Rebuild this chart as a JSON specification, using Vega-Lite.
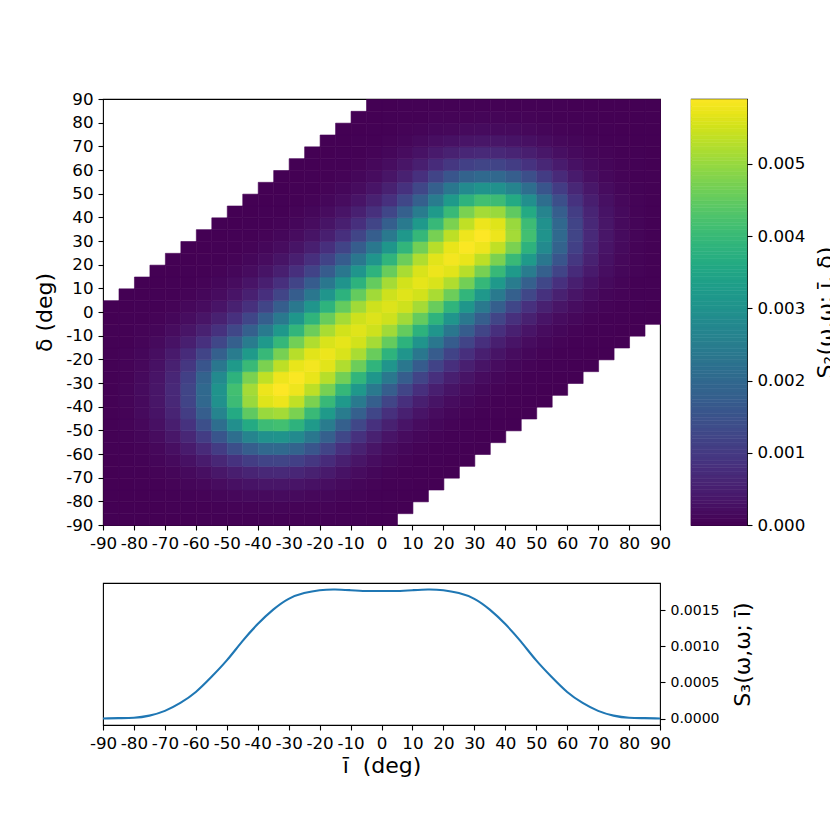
{
  "$schema": "https://vega.github.io/schema/vega-lite/v6.json",
  "background": "white",
  "padding": {"left": 33, "top": 90, "right": 0, "bottom": 0},
  "columns": 2,
  "spacing": {"row": 58, "column": 31},
  "bounds": "flush",
  "config": {
    "font": "DejaVu Sans",
    "view": {"stroke": "black", "strokeWidth": 1.1},
    "axis": {
      "grid": false, "domain": false, "tickColor": "black", "tickSize": 5, "tickWidth": 1.1,
      "labelColor": "black", "labelFont": "DejaVu Sans", "labelFontSize": 16.7, "labelPadding": 5,
      "labelFlush": false, "labelOverlap": false, "labelBound": false,
      "titleColor": "black", "titleFont": "DejaVu Sans", "titleFontSize": 22, "titleFontWeight": "normal"
    }
  },
  "concat": [
    {
      "width": 557,
      "height": 426,
      "data": {"values": [
{"x":-90,"y":-90,"v":0},{"x":-90,"y":-85,"v":0},{"x":-90,"y":-80,"v":0},{"x":-90,"y":-75,"v":0},{"x":-90,"y":-70,"v":0},{"x":-90,"y":-65,"v":0},{"x":-90,"y":-60,"v":0.00001},{"x":-90,"y":-55,"v":0.00001},{"x":-90,"y":-50,"v":0.00002},{"x":-90,"y":-45,"v":0.00002},{"x":-90,"y":-40,"v":0.00002},{"x":-90,"y":-35,"v":0.00002},{"x":-90,"y":-30,"v":0.00002},{"x":-90,"y":-25,"v":0.00002},{"x":-90,"y":-20,"v":0.00001},{"x":-90,"y":-15,"v":0.00001},{"x":-90,"y":-10,"v":0.00001},{"x":-90,"y":-5,"v":0},{"x":-90,"y":0,"v":0},
{"x":-85,"y":-90,"v":0},{"x":-85,"y":-85,"v":0},{"x":-85,"y":-80,"v":0},{"x":-85,"y":-75,"v":0},{"x":-85,"y":-70,"v":0.00001},{"x":-85,"y":-65,"v":0.00001},{"x":-85,"y":-60,"v":0.00002},{"x":-85,"y":-55,"v":0.00003},{"x":-85,"y":-50,"v":0.00004},{"x":-85,"y":-45,"v":0.00005},{"x":-85,"y":-40,"v":0.00006},{"x":-85,"y":-35,"v":0.00006},{"x":-85,"y":-30,"v":0.00005},{"x":-85,"y":-25,"v":0.00005},{"x":-85,"y":-20,"v":0.00004},{"x":-85,"y":-15,"v":0.00002},{"x":-85,"y":-10,"v":0.00002},{"x":-85,"y":-5,"v":0.00001},{"x":-85,"y":0,"v":0},{"x":-85,"y":5,"v":0},
{"x":-80,"y":-90,"v":0},{"x":-80,"y":-85,"v":0},{"x":-80,"y":-80,"v":0},{"x":-80,"y":-75,"v":0.00001},{"x":-80,"y":-70,"v":0.00002},{"x":-80,"y":-65,"v":0.00003},{"x":-80,"y":-60,"v":0.00005},{"x":-80,"y":-55,"v":0.00007},{"x":-80,"y":-50,"v":0.0001},{"x":-80,"y":-45,"v":0.00013},{"x":-80,"y":-40,"v":0.00014},{"x":-80,"y":-35,"v":0.00015},{"x":-80,"y":-30,"v":0.00013},{"x":-80,"y":-25,"v":0.00011},{"x":-80,"y":-20,"v":0.00009},{"x":-80,"y":-15,"v":0.00006},{"x":-80,"y":-10,"v":0.00004},{"x":-80,"y":-5,"v":0.00002},{"x":-80,"y":0,"v":0.00001},{"x":-80,"y":5,"v":0},{"x":-80,"y":10,"v":0},
{"x":-75,"y":-90,"v":0},{"x":-75,"y":-85,"v":0},{"x":-75,"y":-80,"v":0.00001},{"x":-75,"y":-75,"v":0.00002},{"x":-75,"y":-70,"v":0.00004},{"x":-75,"y":-65,"v":0.00007},{"x":-75,"y":-60,"v":0.00011},{"x":-75,"y":-55,"v":0.00017},{"x":-75,"y":-50,"v":0.00023},{"x":-75,"y":-45,"v":0.00028},{"x":-75,"y":-40,"v":0.00032},{"x":-75,"y":-35,"v":0.00032},{"x":-75,"y":-30,"v":0.0003},{"x":-75,"y":-25,"v":0.00025},{"x":-75,"y":-20,"v":0.00019},{"x":-75,"y":-15,"v":0.00013},{"x":-75,"y":-10,"v":0.00008},{"x":-75,"y":-5,"v":0.00005},{"x":-75,"y":0,"v":0.00002},{"x":-75,"y":5,"v":0.00001},{"x":-75,"y":10,"v":0},{"x":-75,"y":15,"v":0},
{"x":-70,"y":-90,"v":0},{"x":-70,"y":-85,"v":0.00001},{"x":-70,"y":-80,"v":0.00002},{"x":-70,"y":-75,"v":0.00004},{"x":-70,"y":-70,"v":0.00007},{"x":-70,"y":-65,"v":0.00013},{"x":-70,"y":-60,"v":0.00022},{"x":-70,"y":-55,"v":0.00034},{"x":-70,"y":-50,"v":0.00046},{"x":-70,"y":-45,"v":0.00057},{"x":-70,"y":-40,"v":0.00064},{"x":-70,"y":-35,"v":0.00066},{"x":-70,"y":-30,"v":0.00061},{"x":-70,"y":-25,"v":0.00051},{"x":-70,"y":-20,"v":0.00039},{"x":-70,"y":-15,"v":0.00027},{"x":-70,"y":-10,"v":0.00017},{"x":-70,"y":-5,"v":0.00009},{"x":-70,"y":0,"v":0.00005},{"x":-70,"y":5,"v":0.00002},{"x":-70,"y":10,"v":0.00001},{"x":-70,"y":15,"v":0},{"x":-70,"y":20,"v":0},
{"x":-65,"y":-90,"v":0},{"x":-65,"y":-85,"v":0.00001},{"x":-65,"y":-80,"v":0.00003},{"x":-65,"y":-75,"v":0.00007},{"x":-65,"y":-70,"v":0.00013},{"x":-65,"y":-65,"v":0.00025},{"x":-65,"y":-60,"v":0.00041},{"x":-65,"y":-55,"v":0.00062},{"x":-65,"y":-50,"v":0.00084},{"x":-65,"y":-45,"v":0.00105},{"x":-65,"y":-40,"v":0.00118},{"x":-65,"y":-35,"v":0.0012},{"x":-65,"y":-30,"v":0.00111},{"x":-65,"y":-25,"v":0.00093},{"x":-65,"y":-20,"v":0.00071},{"x":-65,"y":-15,"v":0.00049},{"x":-65,"y":-10,"v":0.00031},{"x":-65,"y":-5,"v":0.00018},{"x":-65,"y":0,"v":0.0001},{"x":-65,"y":5,"v":0.00005},{"x":-65,"y":10,"v":0.00002},{"x":-65,"y":15,"v":0.00001},{"x":-65,"y":20,"v":0},{"x":-65,"y":25,"v":0},
{"x":-60,"y":-90,"v":0.00001},{"x":-60,"y":-85,"v":0.00002},{"x":-60,"y":-80,"v":0.00005},{"x":-60,"y":-75,"v":0.00011},{"x":-60,"y":-70,"v":0.00022},{"x":-60,"y":-65,"v":0.00041},{"x":-60,"y":-60,"v":0.00068},{"x":-60,"y":-55,"v":0.00102},{"x":-60,"y":-50,"v":0.00141},{"x":-60,"y":-45,"v":0.00174},{"x":-60,"y":-40,"v":0.00196},{"x":-60,"y":-35,"v":0.002},{"x":-60,"y":-30,"v":0.00185},{"x":-60,"y":-25,"v":0.00155},{"x":-60,"y":-20,"v":0.00118},{"x":-60,"y":-15,"v":0.00081},{"x":-60,"y":-10,"v":0.00051},{"x":-60,"y":-5,"v":0.00031},{"x":-60,"y":0,"v":0.00017},{"x":-60,"y":5,"v":0.00009},{"x":-60,"y":10,"v":0.00005},{"x":-60,"y":15,"v":0.00002},{"x":-60,"y":20,"v":0.00001},{"x":-60,"y":25,"v":0},{"x":-60,"y":30,"v":0},
{"x":-55,"y":-90,"v":0.00001},{"x":-55,"y":-85,"v":0.00003},{"x":-55,"y":-80,"v":0.00007},{"x":-55,"y":-75,"v":0.00017},{"x":-55,"y":-70,"v":0.00034},{"x":-55,"y":-65,"v":0.00062},{"x":-55,"y":-60,"v":0.00102},{"x":-55,"y":-55,"v":0.00155},{"x":-55,"y":-50,"v":0.00212},{"x":-55,"y":-45,"v":0.00263},{"x":-55,"y":-40,"v":0.00295},{"x":-55,"y":-35,"v":0.00301},{"x":-55,"y":-30,"v":0.00279},{"x":-55,"y":-25,"v":0.00233},{"x":-55,"y":-20,"v":0.00178},{"x":-55,"y":-15,"v":0.00124},{"x":-55,"y":-10,"v":0.00082},{"x":-55,"y":-5,"v":0.00051},{"x":-55,"y":0,"v":0.0003},{"x":-55,"y":5,"v":0.00017},{"x":-55,"y":10,"v":0.00009},{"x":-55,"y":15,"v":0.00005},{"x":-55,"y":20,"v":0.00002},{"x":-55,"y":25,"v":0.00001},{"x":-55,"y":30,"v":0},{"x":-55,"y":35,"v":0},
{"x":-50,"y":-90,"v":0.00002},{"x":-50,"y":-85,"v":0.00004},{"x":-50,"y":-80,"v":0.0001},{"x":-50,"y":-75,"v":0.00023},{"x":-50,"y":-70,"v":0.00046},{"x":-50,"y":-65,"v":0.00084},{"x":-50,"y":-60,"v":0.00141},{"x":-50,"y":-55,"v":0.00212},{"x":-50,"y":-50,"v":0.0029},{"x":-50,"y":-45,"v":0.00359},{"x":-50,"y":-40,"v":0.00404},{"x":-50,"y":-35,"v":0.00412},{"x":-50,"y":-30,"v":0.0038},{"x":-50,"y":-25,"v":0.00319},{"x":-50,"y":-20,"v":0.00245},{"x":-50,"y":-15,"v":0.00178},{"x":-50,"y":-10,"v":0.00123},{"x":-50,"y":-5,"v":0.00081},{"x":-50,"y":0,"v":0.00051},{"x":-50,"y":5,"v":0.0003},{"x":-50,"y":10,"v":0.00017},{"x":-50,"y":15,"v":0.00009},{"x":-50,"y":20,"v":0.00005},{"x":-50,"y":25,"v":0.00002},{"x":-50,"y":30,"v":0.00001},{"x":-50,"y":35,"v":0},{"x":-50,"y":40,"v":0},
{"x":-45,"y":-90,"v":0.00002},{"x":-45,"y":-85,"v":0.00005},{"x":-45,"y":-80,"v":0.00013},{"x":-45,"y":-75,"v":0.00028},{"x":-45,"y":-70,"v":0.00057},{"x":-45,"y":-65,"v":0.00105},{"x":-45,"y":-60,"v":0.00174},{"x":-45,"y":-55,"v":0.00263},{"x":-45,"y":-50,"v":0.00359},{"x":-45,"y":-45,"v":0.00445},{"x":-45,"y":-40,"v":0.00501},{"x":-45,"y":-35,"v":0.0051},{"x":-45,"y":-30,"v":0.00472},{"x":-45,"y":-25,"v":0.00399},{"x":-45,"y":-20,"v":0.0032},{"x":-45,"y":-15,"v":0.00244},{"x":-45,"y":-10,"v":0.00177},{"x":-45,"y":-5,"v":0.00122},{"x":-45,"y":0,"v":0.0008},{"x":-45,"y":5,"v":0.0005},{"x":-45,"y":10,"v":0.0003},{"x":-45,"y":15,"v":0.00017},{"x":-45,"y":20,"v":0.00009},{"x":-45,"y":25,"v":0.00005},{"x":-45,"y":30,"v":0.00002},{"x":-45,"y":35,"v":0.00001},{"x":-45,"y":40,"v":0},{"x":-45,"y":45,"v":0},
{"x":-40,"y":-90,"v":0.00002},{"x":-40,"y":-85,"v":0.00006},{"x":-40,"y":-80,"v":0.00014},{"x":-40,"y":-75,"v":0.00032},{"x":-40,"y":-70,"v":0.00064},{"x":-40,"y":-65,"v":0.00118},{"x":-40,"y":-60,"v":0.00196},{"x":-40,"y":-55,"v":0.00295},{"x":-40,"y":-50,"v":0.00404},{"x":-40,"y":-45,"v":0.00501},{"x":-40,"y":-40,"v":0.00562},{"x":-40,"y":-35,"v":0.00574},{"x":-40,"y":-30,"v":0.00535},{"x":-40,"y":-25,"v":0.00473},{"x":-40,"y":-20,"v":0.00397},{"x":-40,"y":-15,"v":0.00317},{"x":-40,"y":-10,"v":0.00241},{"x":-40,"y":-5,"v":0.00175},{"x":-40,"y":0,"v":0.0012},{"x":-40,"y":5,"v":0.00079},{"x":-40,"y":10,"v":0.00049},{"x":-40,"y":15,"v":0.00029},{"x":-40,"y":20,"v":0.00017},{"x":-40,"y":25,"v":0.00009},{"x":-40,"y":30,"v":0.00005},{"x":-40,"y":35,"v":0.00002},{"x":-40,"y":40,"v":0.00001},{"x":-40,"y":45,"v":0},{"x":-40,"y":50,"v":0},
{"x":-35,"y":-90,"v":0.00002},{"x":-35,"y":-85,"v":0.00006},{"x":-35,"y":-80,"v":0.00015},{"x":-35,"y":-75,"v":0.00032},{"x":-35,"y":-70,"v":0.00066},{"x":-35,"y":-65,"v":0.0012},{"x":-35,"y":-60,"v":0.002},{"x":-35,"y":-55,"v":0.00301},{"x":-35,"y":-50,"v":0.00412},{"x":-35,"y":-45,"v":0.0051},{"x":-35,"y":-40,"v":0.00574},{"x":-35,"y":-35,"v":0.0059},{"x":-35,"y":-30,"v":0.00575},{"x":-35,"y":-25,"v":0.00532},{"x":-35,"y":-20,"v":0.00469},{"x":-35,"y":-15,"v":0.00393},{"x":-35,"y":-10,"v":0.00314},{"x":-35,"y":-5,"v":0.00238},{"x":-35,"y":0,"v":0.00173},{"x":-35,"y":5,"v":0.00119},{"x":-35,"y":10,"v":0.00078},{"x":-35,"y":15,"v":0.00049},{"x":-35,"y":20,"v":0.00029},{"x":-35,"y":25,"v":0.00017},{"x":-35,"y":30,"v":0.00009},{"x":-35,"y":35,"v":0.00005},{"x":-35,"y":40,"v":0.00002},{"x":-35,"y":45,"v":0.00001},{"x":-35,"y":50,"v":0},{"x":-35,"y":55,"v":0},
{"x":-30,"y":-90,"v":0.00002},{"x":-30,"y":-85,"v":0.00005},{"x":-30,"y":-80,"v":0.00013},{"x":-30,"y":-75,"v":0.0003},{"x":-30,"y":-70,"v":0.00061},{"x":-30,"y":-65,"v":0.00111},{"x":-30,"y":-60,"v":0.00185},{"x":-30,"y":-55,"v":0.00279},{"x":-30,"y":-50,"v":0.0038},{"x":-30,"y":-45,"v":0.00472},{"x":-30,"y":-40,"v":0.00535},{"x":-30,"y":-35,"v":0.00575},{"x":-30,"y":-30,"v":0.00587},{"x":-30,"y":-25,"v":0.0057},{"x":-30,"y":-20,"v":0.00527},{"x":-30,"y":-15,"v":0.00464},{"x":-30,"y":-10,"v":0.00388},{"x":-30,"y":-5,"v":0.0031},{"x":-30,"y":0,"v":0.00236},{"x":-30,"y":5,"v":0.00171},{"x":-30,"y":10,"v":0.00118},{"x":-30,"y":15,"v":0.00078},{"x":-30,"y":20,"v":0.00049},{"x":-30,"y":25,"v":0.00029},{"x":-30,"y":30,"v":0.00017},{"x":-30,"y":35,"v":0.00009},{"x":-30,"y":40,"v":0.00005},{"x":-30,"y":45,"v":0.00002},{"x":-30,"y":50,"v":0.00001},{"x":-30,"y":55,"v":0},{"x":-30,"y":60,"v":0},
{"x":-25,"y":-90,"v":0.00002},{"x":-25,"y":-85,"v":0.00005},{"x":-25,"y":-80,"v":0.00011},{"x":-25,"y":-75,"v":0.00025},{"x":-25,"y":-70,"v":0.00051},{"x":-25,"y":-65,"v":0.00093},{"x":-25,"y":-60,"v":0.00155},{"x":-25,"y":-55,"v":0.00233},{"x":-25,"y":-50,"v":0.00319},{"x":-25,"y":-45,"v":0.00399},{"x":-25,"y":-40,"v":0.00473},{"x":-25,"y":-35,"v":0.00532},{"x":-25,"y":-30,"v":0.0057},{"x":-25,"y":-25,"v":0.00581},{"x":-25,"y":-20,"v":0.00564},{"x":-25,"y":-15,"v":0.00521},{"x":-25,"y":-10,"v":0.00458},{"x":-25,"y":-5,"v":0.00384},{"x":-25,"y":0,"v":0.00307},{"x":-25,"y":5,"v":0.00234},{"x":-25,"y":10,"v":0.0017},{"x":-25,"y":15,"v":0.00117},{"x":-25,"y":20,"v":0.00078},{"x":-25,"y":25,"v":0.00049},{"x":-25,"y":30,"v":0.00029},{"x":-25,"y":35,"v":0.00017},{"x":-25,"y":40,"v":0.00009},{"x":-25,"y":45,"v":0.00005},{"x":-25,"y":50,"v":0.00002},{"x":-25,"y":55,"v":0.00001},{"x":-25,"y":60,"v":0},{"x":-25,"y":65,"v":0},
{"x":-20,"y":-90,"v":0.00001},{"x":-20,"y":-85,"v":0.00004},{"x":-20,"y":-80,"v":0.00009},{"x":-20,"y":-75,"v":0.00019},{"x":-20,"y":-70,"v":0.00039},{"x":-20,"y":-65,"v":0.00071},{"x":-20,"y":-60,"v":0.00118},{"x":-20,"y":-55,"v":0.00178},{"x":-20,"y":-50,"v":0.00245},{"x":-20,"y":-45,"v":0.0032},{"x":-20,"y":-40,"v":0.00397},{"x":-20,"y":-35,"v":0.00469},{"x":-20,"y":-30,"v":0.00527},{"x":-20,"y":-25,"v":0.00564},{"x":-20,"y":-20,"v":0.00574},{"x":-20,"y":-15,"v":0.00557},{"x":-20,"y":-10,"v":0.00515},{"x":-20,"y":-5,"v":0.00454},{"x":-20,"y":0,"v":0.00381},{"x":-20,"y":5,"v":0.00305},{"x":-20,"y":10,"v":0.00233},{"x":-20,"y":15,"v":0.00169},{"x":-20,"y":20,"v":0.00117},{"x":-20,"y":25,"v":0.00078},{"x":-20,"y":30,"v":0.00049},{"x":-20,"y":35,"v":0.00029},{"x":-20,"y":40,"v":0.00017},{"x":-20,"y":45,"v":0.00009},{"x":-20,"y":50,"v":0.00005},{"x":-20,"y":55,"v":0.00002},{"x":-20,"y":60,"v":0.00001},{"x":-20,"y":65,"v":0},{"x":-20,"y":70,"v":0},
{"x":-15,"y":-90,"v":0.00001},{"x":-15,"y":-85,"v":0.00002},{"x":-15,"y":-80,"v":0.00006},{"x":-15,"y":-75,"v":0.00013},{"x":-15,"y":-70,"v":0.00027},{"x":-15,"y":-65,"v":0.00049},{"x":-15,"y":-60,"v":0.00081},{"x":-15,"y":-55,"v":0.00124},{"x":-15,"y":-50,"v":0.00178},{"x":-15,"y":-45,"v":0.00244},{"x":-15,"y":-40,"v":0.00317},{"x":-15,"y":-35,"v":0.00393},{"x":-15,"y":-30,"v":0.00464},{"x":-15,"y":-25,"v":0.00521},{"x":-15,"y":-20,"v":0.00557},{"x":-15,"y":-15,"v":0.00568},{"x":-15,"y":-10,"v":0.00551},{"x":-15,"y":-5,"v":0.00511},{"x":-15,"y":0,"v":0.0045},{"x":-15,"y":5,"v":0.00379},{"x":-15,"y":10,"v":0.00304},{"x":-15,"y":15,"v":0.00233},{"x":-15,"y":20,"v":0.0017},{"x":-15,"y":25,"v":0.00118},{"x":-15,"y":30,"v":0.00078},{"x":-15,"y":35,"v":0.00049},{"x":-15,"y":40,"v":0.0003},{"x":-15,"y":45,"v":0.00017},{"x":-15,"y":50,"v":0.00009},{"x":-15,"y":55,"v":0.00005},{"x":-15,"y":60,"v":0.00002},{"x":-15,"y":65,"v":0.00001},{"x":-15,"y":70,"v":0},{"x":-15,"y":75,"v":0},
{"x":-10,"y":-90,"v":0.00001},{"x":-10,"y":-85,"v":0.00002},{"x":-10,"y":-80,"v":0.00004},{"x":-10,"y":-75,"v":0.00008},{"x":-10,"y":-70,"v":0.00017},{"x":-10,"y":-65,"v":0.00031},{"x":-10,"y":-60,"v":0.00051},{"x":-10,"y":-55,"v":0.00082},{"x":-10,"y":-50,"v":0.00123},{"x":-10,"y":-45,"v":0.00177},{"x":-10,"y":-40,"v":0.00241},{"x":-10,"y":-35,"v":0.00314},{"x":-10,"y":-30,"v":0.00388},{"x":-10,"y":-25,"v":0.00458},{"x":-10,"y":-20,"v":0.00515},{"x":-10,"y":-15,"v":0.00551},{"x":-10,"y":-10,"v":0.00563},{"x":-10,"y":-5,"v":0.00547},{"x":-10,"y":0,"v":0.00508},{"x":-10,"y":5,"v":0.0045},{"x":-10,"y":10,"v":0.00379},{"x":-10,"y":15,"v":0.00305},{"x":-10,"y":20,"v":0.00234},{"x":-10,"y":25,"v":0.00171},{"x":-10,"y":30,"v":0.00119},{"x":-10,"y":35,"v":0.00079},{"x":-10,"y":40,"v":0.0005},{"x":-10,"y":45,"v":0.0003},{"x":-10,"y":50,"v":0.00017},{"x":-10,"y":55,"v":0.00009},{"x":-10,"y":60,"v":0.00005},{"x":-10,"y":65,"v":0.00002},{"x":-10,"y":70,"v":0.00001},{"x":-10,"y":75,"v":0},{"x":-10,"y":80,"v":0},
{"x":-5,"y":-90,"v":0},{"x":-5,"y":-85,"v":0.00001},{"x":-5,"y":-80,"v":0.00002},{"x":-5,"y":-75,"v":0.00005},{"x":-5,"y":-70,"v":0.00009},{"x":-5,"y":-65,"v":0.00018},{"x":-5,"y":-60,"v":0.00031},{"x":-5,"y":-55,"v":0.00051},{"x":-5,"y":-50,"v":0.00081},{"x":-5,"y":-45,"v":0.00122},{"x":-5,"y":-40,"v":0.00175},{"x":-5,"y":-35,"v":0.00238},{"x":-5,"y":-30,"v":0.0031},{"x":-5,"y":-25,"v":0.00384},{"x":-5,"y":-20,"v":0.00454},{"x":-5,"y":-15,"v":0.00511},{"x":-5,"y":-10,"v":0.00547},{"x":-5,"y":-5,"v":0.0056},{"x":-5,"y":0,"v":0.00547},{"x":-5,"y":5,"v":0.00508},{"x":-5,"y":10,"v":0.0045},{"x":-5,"y":15,"v":0.00381},{"x":-5,"y":20,"v":0.00307},{"x":-5,"y":25,"v":0.00236},{"x":-5,"y":30,"v":0.00173},{"x":-5,"y":35,"v":0.0012},{"x":-5,"y":40,"v":0.0008},{"x":-5,"y":45,"v":0.00051},{"x":-5,"y":50,"v":0.0003},{"x":-5,"y":55,"v":0.00017},{"x":-5,"y":60,"v":0.0001},{"x":-5,"y":65,"v":0.00005},{"x":-5,"y":70,"v":0.00002},{"x":-5,"y":75,"v":0.00001},{"x":-5,"y":80,"v":0},{"x":-5,"y":85,"v":0},
{"x":0,"y":-90,"v":0},{"x":0,"y":-85,"v":0},{"x":0,"y":-80,"v":0.00001},{"x":0,"y":-75,"v":0.00002},{"x":0,"y":-70,"v":0.00005},{"x":0,"y":-65,"v":0.0001},{"x":0,"y":-60,"v":0.00017},{"x":0,"y":-55,"v":0.0003},{"x":0,"y":-50,"v":0.00051},{"x":0,"y":-45,"v":0.0008},{"x":0,"y":-40,"v":0.0012},{"x":0,"y":-35,"v":0.00173},{"x":0,"y":-30,"v":0.00236},{"x":0,"y":-25,"v":0.00307},{"x":0,"y":-20,"v":0.00381},{"x":0,"y":-15,"v":0.0045},{"x":0,"y":-10,"v":0.00508},{"x":0,"y":-5,"v":0.00547},{"x":0,"y":0,"v":0.0056},{"x":0,"y":5,"v":0.00547},{"x":0,"y":10,"v":0.00511},{"x":0,"y":15,"v":0.00454},{"x":0,"y":20,"v":0.00384},{"x":0,"y":25,"v":0.0031},{"x":0,"y":30,"v":0.00238},{"x":0,"y":35,"v":0.00175},{"x":0,"y":40,"v":0.00122},{"x":0,"y":45,"v":0.00081},{"x":0,"y":50,"v":0.00051},{"x":0,"y":55,"v":0.00031},{"x":0,"y":60,"v":0.00018},{"x":0,"y":65,"v":0.00009},{"x":0,"y":70,"v":0.00005},{"x":0,"y":75,"v":0.00002},{"x":0,"y":80,"v":0.00001},{"x":0,"y":85,"v":0},
{"x":5,"y":-85,"v":0},{"x":5,"y":-80,"v":0},{"x":5,"y":-75,"v":0.00001},{"x":5,"y":-70,"v":0.00002},{"x":5,"y":-65,"v":0.00005},{"x":5,"y":-60,"v":0.00009},{"x":5,"y":-55,"v":0.00017},{"x":5,"y":-50,"v":0.0003},{"x":5,"y":-45,"v":0.0005},{"x":5,"y":-40,"v":0.00079},{"x":5,"y":-35,"v":0.00119},{"x":5,"y":-30,"v":0.00171},{"x":5,"y":-25,"v":0.00234},{"x":5,"y":-20,"v":0.00305},{"x":5,"y":-15,"v":0.00379},{"x":5,"y":-10,"v":0.0045},{"x":5,"y":-5,"v":0.00508},{"x":5,"y":0,"v":0.00547},{"x":5,"y":5,"v":0.00563},{"x":5,"y":10,"v":0.00551},{"x":5,"y":15,"v":0.00515},{"x":5,"y":20,"v":0.00458},{"x":5,"y":25,"v":0.00388},{"x":5,"y":30,"v":0.00314},{"x":5,"y":35,"v":0.00241},{"x":5,"y":40,"v":0.00177},{"x":5,"y":45,"v":0.00123},{"x":5,"y":50,"v":0.00082},{"x":5,"y":55,"v":0.00051},{"x":5,"y":60,"v":0.00031},{"x":5,"y":65,"v":0.00017},{"x":5,"y":70,"v":0.00008},{"x":5,"y":75,"v":0.00004},{"x":5,"y":80,"v":0.00002},{"x":5,"y":85,"v":0.00001},
{"x":10,"y":-80,"v":0},{"x":10,"y":-75,"v":0},{"x":10,"y":-70,"v":0.00001},{"x":10,"y":-65,"v":0.00002},{"x":10,"y":-60,"v":0.00005},{"x":10,"y":-55,"v":0.00009},{"x":10,"y":-50,"v":0.00017},{"x":10,"y":-45,"v":0.0003},{"x":10,"y":-40,"v":0.00049},{"x":10,"y":-35,"v":0.00078},{"x":10,"y":-30,"v":0.00118},{"x":10,"y":-25,"v":0.0017},{"x":10,"y":-20,"v":0.00233},{"x":10,"y":-15,"v":0.00304},{"x":10,"y":-10,"v":0.00379},{"x":10,"y":-5,"v":0.0045},{"x":10,"y":0,"v":0.00511},{"x":10,"y":5,"v":0.00551},{"x":10,"y":10,"v":0.00568},{"x":10,"y":15,"v":0.00557},{"x":10,"y":20,"v":0.00521},{"x":10,"y":25,"v":0.00464},{"x":10,"y":30,"v":0.00393},{"x":10,"y":35,"v":0.00317},{"x":10,"y":40,"v":0.00244},{"x":10,"y":45,"v":0.00178},{"x":10,"y":50,"v":0.00124},{"x":10,"y":55,"v":0.00081},{"x":10,"y":60,"v":0.00049},{"x":10,"y":65,"v":0.00027},{"x":10,"y":70,"v":0.00013},{"x":10,"y":75,"v":0.00006},{"x":10,"y":80,"v":0.00002},{"x":10,"y":85,"v":0.00001},
{"x":15,"y":-75,"v":0},{"x":15,"y":-70,"v":0},{"x":15,"y":-65,"v":0.00001},{"x":15,"y":-60,"v":0.00002},{"x":15,"y":-55,"v":0.00005},{"x":15,"y":-50,"v":0.00009},{"x":15,"y":-45,"v":0.00017},{"x":15,"y":-40,"v":0.00029},{"x":15,"y":-35,"v":0.00049},{"x":15,"y":-30,"v":0.00078},{"x":15,"y":-25,"v":0.00117},{"x":15,"y":-20,"v":0.00169},{"x":15,"y":-15,"v":0.00233},{"x":15,"y":-10,"v":0.00305},{"x":15,"y":-5,"v":0.00381},{"x":15,"y":0,"v":0.00454},{"x":15,"y":5,"v":0.00515},{"x":15,"y":10,"v":0.00557},{"x":15,"y":15,"v":0.00574},{"x":15,"y":20,"v":0.00564},{"x":15,"y":25,"v":0.00527},{"x":15,"y":30,"v":0.00469},{"x":15,"y":35,"v":0.00397},{"x":15,"y":40,"v":0.0032},{"x":15,"y":45,"v":0.00245},{"x":15,"y":50,"v":0.00178},{"x":15,"y":55,"v":0.00118},{"x":15,"y":60,"v":0.00071},{"x":15,"y":65,"v":0.00039},{"x":15,"y":70,"v":0.00019},{"x":15,"y":75,"v":0.00009},{"x":15,"y":80,"v":0.00004},{"x":15,"y":85,"v":0.00001},
{"x":20,"y":-70,"v":0},{"x":20,"y":-65,"v":0},{"x":20,"y":-60,"v":0.00001},{"x":20,"y":-55,"v":0.00002},{"x":20,"y":-50,"v":0.00005},{"x":20,"y":-45,"v":0.00009},{"x":20,"y":-40,"v":0.00017},{"x":20,"y":-35,"v":0.00029},{"x":20,"y":-30,"v":0.00049},{"x":20,"y":-25,"v":0.00078},{"x":20,"y":-20,"v":0.00117},{"x":20,"y":-15,"v":0.0017},{"x":20,"y":-10,"v":0.00234},{"x":20,"y":-5,"v":0.00307},{"x":20,"y":0,"v":0.00384},{"x":20,"y":5,"v":0.00458},{"x":20,"y":10,"v":0.00521},{"x":20,"y":15,"v":0.00564},{"x":20,"y":20,"v":0.00581},{"x":20,"y":25,"v":0.0057},{"x":20,"y":30,"v":0.00532},{"x":20,"y":35,"v":0.00473},{"x":20,"y":40,"v":0.00399},{"x":20,"y":45,"v":0.00319},{"x":20,"y":50,"v":0.00233},{"x":20,"y":55,"v":0.00155},{"x":20,"y":60,"v":0.00093},{"x":20,"y":65,"v":0.00051},{"x":20,"y":70,"v":0.00025},{"x":20,"y":75,"v":0.00011},{"x":20,"y":80,"v":0.00005},{"x":20,"y":85,"v":0.00002},
{"x":25,"y":-65,"v":0},{"x":25,"y":-60,"v":0},{"x":25,"y":-55,"v":0.00001},{"x":25,"y":-50,"v":0.00002},{"x":25,"y":-45,"v":0.00005},{"x":25,"y":-40,"v":0.00009},{"x":25,"y":-35,"v":0.00017},{"x":25,"y":-30,"v":0.00029},{"x":25,"y":-25,"v":0.00049},{"x":25,"y":-20,"v":0.00078},{"x":25,"y":-15,"v":0.00118},{"x":25,"y":-10,"v":0.00171},{"x":25,"y":-5,"v":0.00236},{"x":25,"y":0,"v":0.0031},{"x":25,"y":5,"v":0.00388},{"x":25,"y":10,"v":0.00464},{"x":25,"y":15,"v":0.00527},{"x":25,"y":20,"v":0.0057},{"x":25,"y":25,"v":0.00587},{"x":25,"y":30,"v":0.00575},{"x":25,"y":35,"v":0.00535},{"x":25,"y":40,"v":0.00472},{"x":25,"y":45,"v":0.0038},{"x":25,"y":50,"v":0.00279},{"x":25,"y":55,"v":0.00185},{"x":25,"y":60,"v":0.00111},{"x":25,"y":65,"v":0.00061},{"x":25,"y":70,"v":0.0003},{"x":25,"y":75,"v":0.00013},{"x":25,"y":80,"v":0.00005},{"x":25,"y":85,"v":0.00002},
{"x":30,"y":-60,"v":0},{"x":30,"y":-55,"v":0},{"x":30,"y":-50,"v":0.00001},{"x":30,"y":-45,"v":0.00002},{"x":30,"y":-40,"v":0.00005},{"x":30,"y":-35,"v":0.00009},{"x":30,"y":-30,"v":0.00017},{"x":30,"y":-25,"v":0.00029},{"x":30,"y":-20,"v":0.00049},{"x":30,"y":-15,"v":0.00078},{"x":30,"y":-10,"v":0.00119},{"x":30,"y":-5,"v":0.00173},{"x":30,"y":0,"v":0.00238},{"x":30,"y":5,"v":0.00314},{"x":30,"y":10,"v":0.00393},{"x":30,"y":15,"v":0.00469},{"x":30,"y":20,"v":0.00532},{"x":30,"y":25,"v":0.00575},{"x":30,"y":30,"v":0.0059},{"x":30,"y":35,"v":0.00574},{"x":30,"y":40,"v":0.0051},{"x":30,"y":45,"v":0.00412},{"x":30,"y":50,"v":0.00301},{"x":30,"y":55,"v":0.002},{"x":30,"y":60,"v":0.0012},{"x":30,"y":65,"v":0.00066},{"x":30,"y":70,"v":0.00032},{"x":30,"y":75,"v":0.00015},{"x":30,"y":80,"v":0.00006},{"x":30,"y":85,"v":0.00002},
{"x":35,"y":-55,"v":0},{"x":35,"y":-50,"v":0},{"x":35,"y":-45,"v":0.00001},{"x":35,"y":-40,"v":0.00002},{"x":35,"y":-35,"v":0.00005},{"x":35,"y":-30,"v":0.00009},{"x":35,"y":-25,"v":0.00017},{"x":35,"y":-20,"v":0.00029},{"x":35,"y":-15,"v":0.00049},{"x":35,"y":-10,"v":0.00079},{"x":35,"y":-5,"v":0.0012},{"x":35,"y":0,"v":0.00175},{"x":35,"y":5,"v":0.00241},{"x":35,"y":10,"v":0.00317},{"x":35,"y":15,"v":0.00397},{"x":35,"y":20,"v":0.00473},{"x":35,"y":25,"v":0.00535},{"x":35,"y":30,"v":0.00574},{"x":35,"y":35,"v":0.00562},{"x":35,"y":40,"v":0.00501},{"x":35,"y":45,"v":0.00404},{"x":35,"y":50,"v":0.00295},{"x":35,"y":55,"v":0.00196},{"x":35,"y":60,"v":0.00118},{"x":35,"y":65,"v":0.00064},{"x":35,"y":70,"v":0.00032},{"x":35,"y":75,"v":0.00014},{"x":35,"y":80,"v":0.00006},{"x":35,"y":85,"v":0.00002},
{"x":40,"y":-50,"v":0},{"x":40,"y":-45,"v":0},{"x":40,"y":-40,"v":0.00001},{"x":40,"y":-35,"v":0.00002},{"x":40,"y":-30,"v":0.00005},{"x":40,"y":-25,"v":0.00009},{"x":40,"y":-20,"v":0.00017},{"x":40,"y":-15,"v":0.0003},{"x":40,"y":-10,"v":0.0005},{"x":40,"y":-5,"v":0.0008},{"x":40,"y":0,"v":0.00122},{"x":40,"y":5,"v":0.00177},{"x":40,"y":10,"v":0.00244},{"x":40,"y":15,"v":0.0032},{"x":40,"y":20,"v":0.00399},{"x":40,"y":25,"v":0.00472},{"x":40,"y":30,"v":0.0051},{"x":40,"y":35,"v":0.00501},{"x":40,"y":40,"v":0.00445},{"x":40,"y":45,"v":0.00359},{"x":40,"y":50,"v":0.00263},{"x":40,"y":55,"v":0.00174},{"x":40,"y":60,"v":0.00105},{"x":40,"y":65,"v":0.00057},{"x":40,"y":70,"v":0.00028},{"x":40,"y":75,"v":0.00013},{"x":40,"y":80,"v":0.00005},{"x":40,"y":85,"v":0.00002},
{"x":45,"y":-45,"v":0},{"x":45,"y":-40,"v":0},{"x":45,"y":-35,"v":0.00001},{"x":45,"y":-30,"v":0.00002},{"x":45,"y":-25,"v":0.00005},{"x":45,"y":-20,"v":0.00009},{"x":45,"y":-15,"v":0.00017},{"x":45,"y":-10,"v":0.0003},{"x":45,"y":-5,"v":0.00051},{"x":45,"y":0,"v":0.00081},{"x":45,"y":5,"v":0.00123},{"x":45,"y":10,"v":0.00178},{"x":45,"y":15,"v":0.00245},{"x":45,"y":20,"v":0.00319},{"x":45,"y":25,"v":0.0038},{"x":45,"y":30,"v":0.00412},{"x":45,"y":35,"v":0.00404},{"x":45,"y":40,"v":0.00359},{"x":45,"y":45,"v":0.0029},{"x":45,"y":50,"v":0.00212},{"x":45,"y":55,"v":0.00141},{"x":45,"y":60,"v":0.00084},{"x":45,"y":65,"v":0.00046},{"x":45,"y":70,"v":0.00023},{"x":45,"y":75,"v":0.0001},{"x":45,"y":80,"v":0.00004},{"x":45,"y":85,"v":0.00002},
{"x":50,"y":-40,"v":0},{"x":50,"y":-35,"v":0},{"x":50,"y":-30,"v":0.00001},{"x":50,"y":-25,"v":0.00002},{"x":50,"y":-20,"v":0.00005},{"x":50,"y":-15,"v":0.00009},{"x":50,"y":-10,"v":0.00017},{"x":50,"y":-5,"v":0.0003},{"x":50,"y":0,"v":0.00051},{"x":50,"y":5,"v":0.00082},{"x":50,"y":10,"v":0.00124},{"x":50,"y":15,"v":0.00178},{"x":50,"y":20,"v":0.00233},{"x":50,"y":25,"v":0.00279},{"x":50,"y":30,"v":0.00301},{"x":50,"y":35,"v":0.00295},{"x":50,"y":40,"v":0.00263},{"x":50,"y":45,"v":0.00212},{"x":50,"y":50,"v":0.00155},{"x":50,"y":55,"v":0.00102},{"x":50,"y":60,"v":0.00062},{"x":50,"y":65,"v":0.00034},{"x":50,"y":70,"v":0.00017},{"x":50,"y":75,"v":0.00007},{"x":50,"y":80,"v":0.00003},{"x":50,"y":85,"v":0.00001},
{"x":55,"y":-35,"v":0},{"x":55,"y":-30,"v":0},{"x":55,"y":-25,"v":0.00001},{"x":55,"y":-20,"v":0.00002},{"x":55,"y":-15,"v":0.00005},{"x":55,"y":-10,"v":0.00009},{"x":55,"y":-5,"v":0.00017},{"x":55,"y":0,"v":0.00031},{"x":55,"y":5,"v":0.00051},{"x":55,"y":10,"v":0.00081},{"x":55,"y":15,"v":0.00118},{"x":55,"y":20,"v":0.00155},{"x":55,"y":25,"v":0.00185},{"x":55,"y":30,"v":0.002},{"x":55,"y":35,"v":0.00196},{"x":55,"y":40,"v":0.00174},{"x":55,"y":45,"v":0.00141},{"x":55,"y":50,"v":0.00102},{"x":55,"y":55,"v":0.00068},{"x":55,"y":60,"v":0.00041},{"x":55,"y":65,"v":0.00022},{"x":55,"y":70,"v":0.00011},{"x":55,"y":75,"v":0.00005},{"x":55,"y":80,"v":0.00002},{"x":55,"y":85,"v":0.00001},
{"x":60,"y":-30,"v":0},{"x":60,"y":-25,"v":0},{"x":60,"y":-20,"v":0.00001},{"x":60,"y":-15,"v":0.00002},{"x":60,"y":-10,"v":0.00005},{"x":60,"y":-5,"v":0.0001},{"x":60,"y":0,"v":0.00018},{"x":60,"y":5,"v":0.00031},{"x":60,"y":10,"v":0.00049},{"x":60,"y":15,"v":0.00071},{"x":60,"y":20,"v":0.00093},{"x":60,"y":25,"v":0.00111},{"x":60,"y":30,"v":0.0012},{"x":60,"y":35,"v":0.00118},{"x":60,"y":40,"v":0.00105},{"x":60,"y":45,"v":0.00084},{"x":60,"y":50,"v":0.00062},{"x":60,"y":55,"v":0.00041},{"x":60,"y":60,"v":0.00025},{"x":60,"y":65,"v":0.00013},{"x":60,"y":70,"v":0.00007},{"x":60,"y":75,"v":0.00003},{"x":60,"y":80,"v":0.00001},{"x":60,"y":85,"v":0},
{"x":65,"y":-25,"v":0},{"x":65,"y":-20,"v":0},{"x":65,"y":-15,"v":0.00001},{"x":65,"y":-10,"v":0.00002},{"x":65,"y":-5,"v":0.00005},{"x":65,"y":0,"v":0.00009},{"x":65,"y":5,"v":0.00017},{"x":65,"y":10,"v":0.00027},{"x":65,"y":15,"v":0.00039},{"x":65,"y":20,"v":0.00051},{"x":65,"y":25,"v":0.00061},{"x":65,"y":30,"v":0.00066},{"x":65,"y":35,"v":0.00064},{"x":65,"y":40,"v":0.00057},{"x":65,"y":45,"v":0.00046},{"x":65,"y":50,"v":0.00034},{"x":65,"y":55,"v":0.00022},{"x":65,"y":60,"v":0.00013},{"x":65,"y":65,"v":0.00007},{"x":65,"y":70,"v":0.00004},{"x":65,"y":75,"v":0.00002},{"x":65,"y":80,"v":0.00001},{"x":65,"y":85,"v":0},
{"x":70,"y":-20,"v":0},{"x":70,"y":-15,"v":0},{"x":70,"y":-10,"v":0.00001},{"x":70,"y":-5,"v":0.00002},{"x":70,"y":0,"v":0.00005},{"x":70,"y":5,"v":0.00008},{"x":70,"y":10,"v":0.00013},{"x":70,"y":15,"v":0.00019},{"x":70,"y":20,"v":0.00025},{"x":70,"y":25,"v":0.0003},{"x":70,"y":30,"v":0.00032},{"x":70,"y":35,"v":0.00032},{"x":70,"y":40,"v":0.00028},{"x":70,"y":45,"v":0.00023},{"x":70,"y":50,"v":0.00017},{"x":70,"y":55,"v":0.00011},{"x":70,"y":60,"v":0.00007},{"x":70,"y":65,"v":0.00004},{"x":70,"y":70,"v":0.00002},{"x":70,"y":75,"v":0.00001},{"x":70,"y":80,"v":0},{"x":70,"y":85,"v":0},
{"x":75,"y":-15,"v":0},{"x":75,"y":-10,"v":0},{"x":75,"y":-5,"v":0.00001},{"x":75,"y":0,"v":0.00002},{"x":75,"y":5,"v":0.00004},{"x":75,"y":10,"v":0.00006},{"x":75,"y":15,"v":0.00009},{"x":75,"y":20,"v":0.00011},{"x":75,"y":25,"v":0.00013},{"x":75,"y":30,"v":0.00015},{"x":75,"y":35,"v":0.00014},{"x":75,"y":40,"v":0.00013},{"x":75,"y":45,"v":0.0001},{"x":75,"y":50,"v":0.00007},{"x":75,"y":55,"v":0.00005},{"x":75,"y":60,"v":0.00003},{"x":75,"y":65,"v":0.00002},{"x":75,"y":70,"v":0.00001},{"x":75,"y":75,"v":0},{"x":75,"y":80,"v":0},{"x":75,"y":85,"v":0},
{"x":80,"y":-10,"v":0},{"x":80,"y":-5,"v":0},{"x":80,"y":0,"v":0.00001},{"x":80,"y":5,"v":0.00002},{"x":80,"y":10,"v":0.00002},{"x":80,"y":15,"v":0.00004},{"x":80,"y":20,"v":0.00005},{"x":80,"y":25,"v":0.00005},{"x":80,"y":30,"v":0.00006},{"x":80,"y":35,"v":0.00006},{"x":80,"y":40,"v":0.00005},{"x":80,"y":45,"v":0.00004},{"x":80,"y":50,"v":0.00003},{"x":80,"y":55,"v":0.00002},{"x":80,"y":60,"v":0.00001},{"x":80,"y":65,"v":0.00001},{"x":80,"y":70,"v":0},{"x":80,"y":75,"v":0},{"x":80,"y":80,"v":0},{"x":80,"y":85,"v":0},
{"x":85,"y":-5,"v":0},{"x":85,"y":0,"v":0},{"x":85,"y":5,"v":0.00001},{"x":85,"y":10,"v":0.00001},{"x":85,"y":15,"v":0.00001},{"x":85,"y":20,"v":0.00002},{"x":85,"y":25,"v":0.00002},{"x":85,"y":30,"v":0.00002},{"x":85,"y":35,"v":0.00002},{"x":85,"y":40,"v":0.00002},{"x":85,"y":45,"v":0.00002},{"x":85,"y":50,"v":0.00001},{"x":85,"y":55,"v":0.00001},{"x":85,"y":60,"v":0},{"x":85,"y":65,"v":0},{"x":85,"y":70,"v":0},{"x":85,"y":75,"v":0},{"x":85,"y":80,"v":0},{"x":85,"y":85,"v":0}
      ]},
      "mark": {"type": "rect", "strokeWidth": 0.6},
      "encoding": {
        "x": {
          "field": "x", "type": "quantitative", "bin": {"binned": true, "step": 5},
          "scale": {"domain": [-90, 90], "nice": false, "zero": false},
          "axis": {"values": [-90,-80,-70,-60,-50,-40,-30,-20,-10,0,10,20,30,40,50,60,70,80,90], "labelExpr": "'' + datum.value", "title": null}
        },
        "y": {
          "field": "y", "type": "quantitative", "bin": {"binned": true, "step": 5},
          "scale": {"domain": [-90, 90], "nice": false, "zero": false},
          "axis": {"values": [-90,-80,-70,-60,-50,-40,-30,-20,-10,0,10,20,30,40,50,60,70,80,90], "labelExpr": "'' + datum.value", "title": "δ (deg)", "titlePadding": 9}
        },
        "color": {"field": "v", "type": "quantitative", "scale": {"scheme": "viridis", "domain": [0, 0.0059]}, "legend": null},
        "stroke": {"field": "v", "type": "quantitative", "scale": {"scheme": "viridis", "domain": [0, 0.0059]}, "legend": null}
      }
    },
    {
      "width": 56,
      "height": 426,
      "data": {"values": [
{"c":0},{"c":0.00005},{"c":0.0001},{"c":0.00015},{"c":0.0002},{"c":0.00025},{"c":0.0003},{"c":0.00035},{"c":0.0004},{"c":0.00045},
{"c":0.0005},{"c":0.00055},{"c":0.0006},{"c":0.00065},{"c":0.0007},{"c":0.00075},{"c":0.0008},{"c":0.00085},{"c":0.0009},{"c":0.00095},
{"c":0.001},{"c":0.00105},{"c":0.0011},{"c":0.00115},{"c":0.0012},{"c":0.00125},{"c":0.0013},{"c":0.00135},{"c":0.0014},{"c":0.00145},
{"c":0.0015},{"c":0.00155},{"c":0.0016},{"c":0.00165},{"c":0.0017},{"c":0.00175},{"c":0.0018},{"c":0.00185},{"c":0.0019},{"c":0.00195},
{"c":0.002},{"c":0.00205},{"c":0.0021},{"c":0.00215},{"c":0.0022},{"c":0.00225},{"c":0.0023},{"c":0.00235},{"c":0.0024},{"c":0.00245},
{"c":0.0025},{"c":0.00255},{"c":0.0026},{"c":0.00265},{"c":0.0027},{"c":0.00275},{"c":0.0028},{"c":0.00285},{"c":0.0029},{"c":0.00295},
{"c":0.003},{"c":0.00305},{"c":0.0031},{"c":0.00315},{"c":0.0032},{"c":0.00325},{"c":0.0033},{"c":0.00335},{"c":0.0034},{"c":0.00345},
{"c":0.0035},{"c":0.00355},{"c":0.0036},{"c":0.00365},{"c":0.0037},{"c":0.00375},{"c":0.0038},{"c":0.00385},{"c":0.0039},{"c":0.00395},
{"c":0.004},{"c":0.00405},{"c":0.0041},{"c":0.00415},{"c":0.0042},{"c":0.00425},{"c":0.0043},{"c":0.00435},{"c":0.0044},{"c":0.00445},
{"c":0.0045},{"c":0.00455},{"c":0.0046},{"c":0.00465},{"c":0.0047},{"c":0.00475},{"c":0.0048},{"c":0.00485},{"c":0.0049},{"c":0.00495},
{"c":0.005},{"c":0.00505},{"c":0.0051},{"c":0.00515},{"c":0.0052},{"c":0.00525},{"c":0.0053},{"c":0.00535},{"c":0.0054},{"c":0.00545},
{"c":0.0055},{"c":0.00555},{"c":0.0056},{"c":0.00565},{"c":0.0057},{"c":0.00575},{"c":0.0058},{"c":0.00585}
      ]},
      "mark": {"type": "rect", "strokeWidth": 0.6},
      "encoding": {
        "y": {
          "field": "c", "type": "quantitative", "bin": {"binned": true, "step": 0.00005},
          "scale": {"domain": [0, 0.0059], "nice": false, "zero": false},
          "axis": {"orient": "right", "values": [0, 0.001, 0.002, 0.003, 0.004, 0.005], "format": ".3f", "title": "S₂(ω,ω; ī, δ)", "titleAngle": 270, "titleBaseline": "top", "titlePadding": 11}
        },
        "color": {"field": "c", "type": "quantitative", "scale": {"scheme": "viridis", "domain": [0, 0.0059]}, "legend": null},
        "stroke": {"field": "c", "type": "quantitative", "scale": {"scheme": "viridis", "domain": [0, 0.0059]}, "legend": null}
      }
    },
    {
      "width": 557,
      "height": 142,
      "data": {"values": [
{"i":-90,"s":0},{"i":-85,"s":0.000005},{"i":-80,"s":0.00001},{"i":-75,"s":0.00004},{"i":-70,"s":0.000106},{"i":-65,"s":0.000216},{"i":-60,"s":0.000368},{"i":-55,"s":0.000575},{"i":-50,"s":0.000806},{"i":-45,"s":0.00107},{"i":-40,"s":0.00131},{"i":-35,"s":0.00151},{"i":-30,"s":0.00166},{"i":-25,"s":0.00174},{"i":-20,"s":0.00178},{"i":-15,"s":0.00179},{"i":-10,"s":0.00178},{"i":-5,"s":0.00177},{"i":0,"s":0.00177},{"i":5,"s":0.00177},{"i":10,"s":0.00178},{"i":15,"s":0.00179},{"i":20,"s":0.00178},{"i":25,"s":0.00174},{"i":30,"s":0.00166},{"i":35,"s":0.00151},{"i":40,"s":0.00131},{"i":45,"s":0.00107},{"i":50,"s":0.000806},{"i":55,"s":0.000575},{"i":60,"s":0.000368},{"i":65,"s":0.000216},{"i":70,"s":0.000106},{"i":75,"s":0.00004},{"i":80,"s":0.00001},{"i":85,"s":0.000005},{"i":90,"s":0}
      ]},
      "mark": {"type": "line", "color": "#1f77b4", "strokeWidth": 2.1, "interpolate": "natural"},
      "encoding": {
        "x": {
          "field": "i", "type": "quantitative",
          "scale": {"domain": [-90, 90], "nice": false, "zero": false},
          "axis": {"values": [-90,-80,-70,-60,-50,-40,-30,-20,-10,0,10,20,30,40,50,60,70,80,90], "labelExpr": "'' + datum.value", "title": "ī\u00a0\u00a0(deg)", "titlePadding": 4}
        },
        "y": {
          "field": "s", "type": "quantitative",
          "scale": {"domain": [-0.00009, 0.00188], "nice": false, "zero": false},
          "axis": {"orient": "right", "values": [0, 0.0005, 0.001, 0.0015], "format": ".4f", "labelFontSize": 14, "title": "S₃(ω,ω; ī)", "titleAngle": 270, "titleBaseline": "top", "titlePadding": 14}
        }
      }
    }
  ]
}
